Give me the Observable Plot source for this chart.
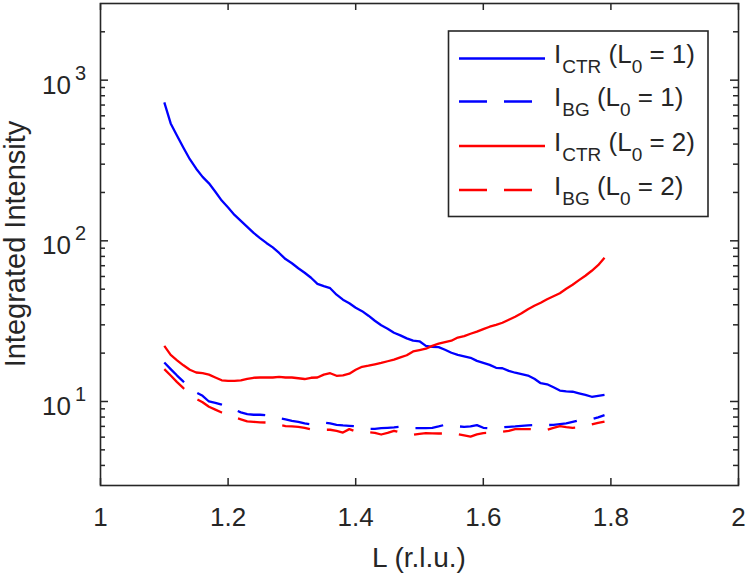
<!DOCTYPE html>
<html><head><meta charset="utf-8">
<script src="https://cdn.jsdelivr.net/npm/d3@7"></script>
<script src="https://cdn.jsdelivr.net/npm/@observablehq/plot@0.6"></script>
<style>body{margin:0;background:#fff} svg{display:block}</style>
</head><body><div id="chart"></div>
<script>
// L positions (r.l.u.)
const L = [1.10,1.11,1.12,1.13,1.14,1.15,1.16,1.17,1.18,1.19,
           1.20,1.21,1.22,1.23,1.24,1.25,1.26,1.27,1.28,1.29,
           1.30,1.31,1.32,1.33,1.34,1.35,1.36,1.37,1.38,1.39,
           1.40,1.41,1.42,1.43,1.44,1.45,1.46,1.47,1.48,1.49,
           1.50,1.51,1.52,1.53,1.54,1.55,1.56,1.57,1.58,1.59,
           1.60,1.61,1.62,1.63,1.64,1.65,1.66,1.67,1.68,1.69,
           1.70,1.71,1.72,1.73,1.74,1.75,1.76,1.77,1.78,1.79];

const ctr1 = [727,538,451,380,322,281,250,228,202,178,
              161,145,133,122,112,104,97,91,84,77,
              72.5,67.5,63.3,58.9,54,52.2,50.7,46.2,43,40.9,
              38.3,36.5,34.2,31.8,29.8,28.4,26.8,25.8,24.7,23.9,
              23.7,22.2,21.9,21.8,21.0,20.1,19.5,19.1,18.7,17.9,
              17.4,16.9,16.2,16.1,15.5,15.1,14.8,14.5,13.85,13.0,
              12.8,12.25,11.7,11.55,11.5,11.25,11.0,10.7,10.85,11.0];

const bg1 = [17.5,15.9,14.5,13.3,12.35,11.4,10.85,10.0,9.8,9.55,
             9.2,8.9,8.55,8.35,8.27,8.27,8.2,8.03,7.86,7.75,
             7.58,7.47,7.31,7.21,7.3,7.4,7.31,7.16,7.1,7.06,
             7.0,6.86,6.76,6.76,6.82,6.86,6.9,6.96,6.9,6.83,
             6.83,6.83,6.86,7.0,7.16,7.1,7.0,6.96,7.0,7.13,
             6.86,6.82,6.86,6.9,6.96,7.0,7.06,7.1,7.13,7.13,
             7.13,7.16,7.23,7.31,7.47,7.64,7.69,7.75,7.97,8.23];

const ctr2 = [22.2,19.5,18.05,16.8,15.75,15.15,15.0,14.7,14.1,13.55,
              13.45,13.45,13.55,13.85,14.05,14.1,14.1,14.1,14.25,14.1,
              14.1,13.95,13.8,14.05,14.1,14.7,15.0,14.45,14.55,14.9,
              15.75,16.45,16.7,17.05,17.4,17.8,18.2,18.8,19.4,20.5,
              20.9,21.3,22.2,22.9,23.4,23.9,25.0,25.5,26.4,27.2,
              28.2,29.2,30.0,30.9,32.3,33.7,35.4,37.5,39.4,41.2,
              43.3,45.2,47.2,50.3,53.3,56.9,60.6,65.1,70.5,78.5];

const bg2 = [15.9,14.5,13.2,12.1,11.2,10.4,9.9,9.27,8.9,8.54,
             8.27,7.97,7.75,7.53,7.47,7.42,7.4,7.31,7.16,7.03,
             7.0,6.96,6.86,6.71,6.67,6.67,6.67,6.57,6.41,6.73,
             6.5,6.48,6.43,6.38,6.23,6.38,6.57,6.41,6.29,6.2,
             6.29,6.36,6.34,6.32,6.32,6.29,6.27,6.16,6.05,6.24,
             6.36,6.38,6.43,6.48,6.57,6.73,6.73,6.73,6.71,6.69,
             6.67,6.86,7.03,6.93,6.86,6.9,7.06,7.2,7.37,7.5];

const xTicks = [1, 1.2, 1.4, 1.6, 1.8, 2];
const xTickLabels = ["1", "1.2", "1.4", "1.6", "1.8", "2"];
const yMajor = [10, 100, 1000];
const yMajorExp = ["1", "2", "3"];
const yMinor = [4,5,6,7,8,9,20,30,40,50,60,70,80,90,200,300,400,500,600,700,800,900,2000];

const legendMain = ["I", "I", "I", "I"];
const legendSub = ["CTR", "BG", "CTR", "BG"];
const legendL0 = ["1", "1", "2", "2"];

const series = [
  {values: ctr1, color: "#0000ff", dash: undefined},
  {values: bg1,  color: "#0000ff", dash: "28,17"},
  {values: ctr2, color: "#ff0000", dash: undefined},
  {values: bg2,  color: "#ff0000", dash: "28,17"}
];

const W = 747, H = 576, mL = 100, mR = 9, mT = 3, mB = 91;
const pw = W - mL - mR, ph = H - mT - mB;
const ink = "#262626";
const font = "'Liberation Sans', Arial, Helvetica, sans-serif";

const plot = Plot.plot({
  width: W, height: H,
  marginLeft: mL, marginRight: mR, marginTop: mT, marginBottom: mB,
  style: {fontFamily: font, background: "white", overflow: "visible"},
  x: {domain: [1, 2], axis: null},
  y: {type: "log", domain: [3, 3000], axis: null},
  marks: [
    ...series.map(s => Plot.line(L.map((x, i) => ({x, y: s.values[i]})), {
      x: "x", y: "y", stroke: s.color, strokeWidth: 2.3,
      strokeDasharray: s.dash, strokeLinejoin: "round", strokeLinecap: "butt"
    })),
    Plot.ruleX(xTicks, {stroke: ink, strokeWidth: 1.5, insetTop: ph - 7}),
    Plot.ruleX(xTicks, {stroke: ink, strokeWidth: 1.5, insetBottom: ph - 7}),
    Plot.ruleY(yMajor, {stroke: ink, strokeWidth: 1.5, insetRight: pw - 8}),
    Plot.ruleY(yMajor, {stroke: ink, strokeWidth: 1.5, insetLeft: pw - 8}),
    Plot.ruleY(yMinor, {stroke: ink, strokeWidth: 1.5, insetRight: pw - 5}),
    Plot.ruleY(yMinor, {stroke: ink, strokeWidth: 1.5, insetLeft: pw - 5}),
    Plot.frame({stroke: ink, strokeWidth: 1.6}),
    Plot.text(xTicks, {x: d => d, frameAnchor: "bottom", lineAnchor: "bottom", dy: 40,
      text: (d, i) => xTickLabels[i], fontSize: 26, fill: ink})
  ]
});

document.getElementById("chart").appendChild(plot);
const svg = d3.select(plot);
const ys = plot.scale("y");

// y tick labels with superscripts
yMajor.forEach((v, i) => {
  const y = ys.apply(v);
  const t = svg.append("text")
    .attr("x", 86).attr("y", y + 14)
    .attr("text-anchor", "end")
    .attr("font-family", font).attr("fill", ink).attr("font-size", 26);
  t.append("tspan").text("10");
  t.append("tspan").attr("font-size", 20).attr("dx", 4).attr("dy", -14).text(yMajorExp[i]);
});

// axis labels
svg.append("text").attr("x", mL + pw / 2).attr("y", 567)
  .attr("text-anchor", "middle").attr("font-family", font).attr("font-size", 28)
  .attr("fill", ink).text("L (r.l.u.)");
svg.append("text").attr("transform", `translate(25,${mT + ph / 2}) rotate(-90)`)
  .attr("text-anchor", "middle").attr("font-family", font).attr("font-size", 29)
  .attr("fill", ink).text("Integrated Intensity");

// legend
const lg = svg.append("g");
lg.append("rect").attr("x", 448.5).attr("y", 31).attr("width", 259.5).attr("height", 185.5)
  .attr("fill", "white").attr("stroke", ink).attr("stroke-width", 1.6);
const rowY = [58.5, 101.5, 146, 190];
series.forEach((s, i) => {
  lg.append("line").attr("x1", 459).attr("x2", 545).attr("y1", rowY[i]).attr("y2", rowY[i])
    .attr("stroke", s.color).attr("stroke-width", 2.3)
    .attr("stroke-dasharray", s.dash || null);
  const t = lg.append("text").attr("x", 554).attr("y", rowY[i] + 4.5)
    .attr("text-anchor", "start")
    .attr("font-family", font).attr("font-size", 26).attr("fill", ink);
  t.append("tspan").text(legendMain[i]);
  t.append("tspan").attr("font-size", 19).attr("dy", 10).attr("dx", 1).text(legendSub[i]);
  t.append("tspan").attr("dy", -10).text(" (L");
  t.append("tspan").attr("font-size", 19).attr("dy", 10).text("0");
  t.append("tspan").attr("dy", -10).text(" = " + legendL0[i] + ")");
});
</script>
</body></html>
